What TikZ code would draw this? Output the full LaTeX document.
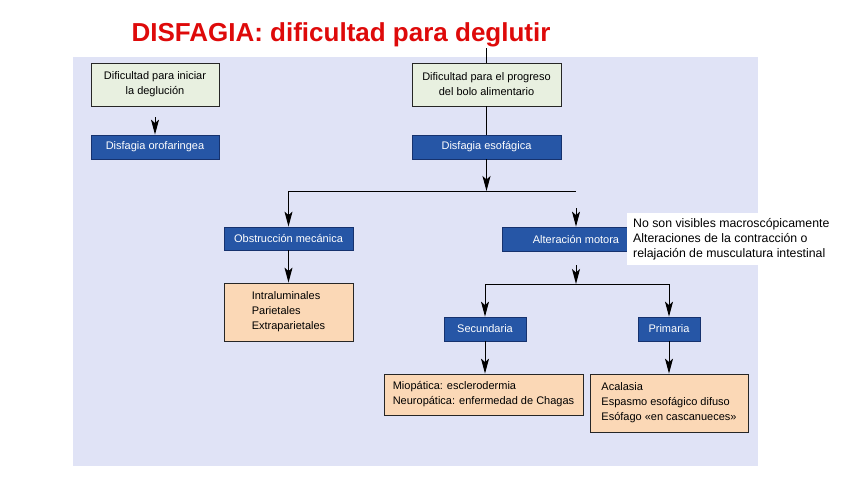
\documentclass[tikz,border=0pt]{standalone}
\usepackage{fontspec}
\setmainfont{Liberation Sans}
\usetikzlibrary{arrows.meta}
\definecolor{lavbg}{RGB}{224,227,246}
\definecolor{palegreen}{RGB}{232,240,224}
\definecolor{deepblue}{RGB}{38,86,166}
\definecolor{blueedge}{RGB}{22,50,110}
\definecolor{peach}{RGB}{251,216,182}
\definecolor{titlered}{RGB}{222,10,10}
\begin{document}
\begin{tikzpicture}[
  x=1pt, y=-1pt,
  font=\fontsize{11}{15}\selectfont,
  greenbox/.style={draw=black!85, fill=palegreen, align=center, inner sep=0pt, line width=0.8pt},
  bluebox/.style={draw=blueedge, fill=deepblue, text=white, align=center, inner sep=0pt, line width=0.8pt},
  peachbox/.style={draw=black!85, fill=peach, align=left, inner sep=0pt, line width=0.8pt},
  notebox/.style={fill=white, align=left, inner xsep=6pt, inner ysep=0pt, font=\fontsize{12.3}{15}\selectfont},
  arr/.style={-{Stealth[length=15pt, width=8pt, inset=3.5pt]}, line width=1pt},
  ln/.style={line width=1pt}
]
\useasboundingbox (0,0) rectangle (848,477);
\fill[lavbg] (73,57) rectangle (758,466);
\node[font=\fontsize{26}{30}\selectfont\bfseries, text=titlered, anchor=base] (title) at (341,41) {DISFAGIA: dificultad para deglutir};

% left column
\node[greenbox, minimum width=128pt, minimum height=43pt] (inicio) at (155,84.5) {Dificultad para iniciar\\la deglución};
\node[bluebox, minimum width=128pt, minimum height=24pt] (oro) at (155,147) {Disfagia orofaringea};

% esophageal column
\coordinate (entrada) at (486.5,48);
\node[greenbox, minimum width=149pt, minimum height=43pt] (progreso) at (486.5,84.5) {Dificultad para el progreso\\del bolo alimentario};
\node[bluebox, minimum width=149pt, minimum height=24pt] (esof) at (486.5,147) {Disfagia esofágica};
\coordinate (ramaM) at (486.5,191);
\coordinate (ramaL) at (288.5,191);
\coordinate (ramaR) at (576,191);

\node[bluebox, minimum width=129pt, minimum height=23pt] (obst) at (288.5,238.5) {Obstrucción mecánica};
\node[peachbox, minimum width=129pt, minimum height=58pt] (tipos) at (288.5,312) {Intraluminales\\Parietales\\Extraparietales};

\node[bluebox, minimum width=148pt, minimum height=24pt] (motora) at (576,239) {Alteración motora};
\node[notebox, anchor=north west, minimum height=52pt] (nota) at (627,213) {No son visibles macroscópicamente\\Alteraciones de la contracción o\\relajación de musculatura intestinal};

\coordinate (rama2M) at (576,284);
\coordinate (rama2L) at (485,284);
\coordinate (rama2R) at (669,284);
\node[bluebox, minimum width=82pt, minimum height=24pt] (sec) at (485,329) {Secundaria};
\node[bluebox, minimum width=62pt, minimum height=24pt] (prim) at (669,329) {Primaria};
\node[peachbox, minimum width=199pt, minimum height=41pt] (secund) at (483.5,394.5) {Miopática: esclerodermia\\Neuropática: enfermedad de Chagas};
\node[peachbox, minimum width=158pt, minimum height=58pt] (primar) at (669,403) {Acalasia\\Espasmo esofágico difuso\\Esófago «en cascanueces»};

% connectors
\draw[arr, shorten <=11pt] (inicio) -- (oro);
\draw[ln] (entrada) -- (progreso);
\draw[ln] (progreso) -- (esof);
\draw[arr] (esof) -- (ramaM);
\draw[ln] (ramaL) -- (ramaR);
\draw[arr] (ramaL) -- (obst);
\draw[arr, shorten <=17pt] (ramaR) -- (motora.north -| ramaR);
\draw[arr] (obst) -- (tipos);
\draw[arr, shorten <=14pt] (motora) -- (rama2M);
\draw[ln] (rama2L) -- (rama2R);
\draw[arr] (rama2L) -- (sec);
\draw[arr] (rama2R) -- (prim);
\draw[arr] (sec) -- (sec |- secund.north);
\draw[arr] (prim) -- (primar);
\end{tikzpicture}
\end{document}
